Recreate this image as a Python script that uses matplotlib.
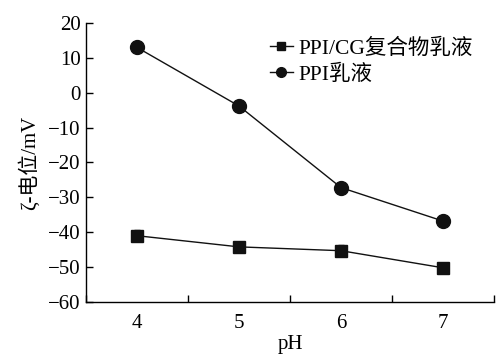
import matplotlib.pyplot as plt
import numpy as np

plt.rcParams['font.family'] = ['Liberation Serif', 'Noto Sans CJK SC']

ph = [4, 5, 6, 7]
complex_zeta = [-41.0, -44.2, -45.3, -50.2]
complex_err = [1.5, 1.5, 1.5, 1.5]
ppi_zeta = [13.0, -3.8, -27.2, -36.8]
ppi_err = [0.8, 0.8, 0.8, 0.8]

fig = plt.figure(figsize=(4.97, 3.54), dpi=100)
ax = fig.add_axes([0.173, 0.147, 0.821, 0.788])

c1 = ax.errorbar(ph, complex_zeta, yerr=complex_err, color='#111111', marker='s',
                 markersize=8, linewidth=1.0, capsize=2, elinewidth=0.8)
c2 = ax.errorbar(ph, ppi_zeta, yerr=ppi_err, color='#111111', marker='o',
                 markersize=10, linewidth=1.0, capsize=2, elinewidth=0.8)

ax.set_xlim(3.5, 7.5)
ax.set_ylim(-60, 20)
ax.set_xticks([3.5, 4.5, 5.5, 6.5, 7.5])
ax.set_xticklabels([])
ax.set_xticks(ph, minor=True)
ax.set_xticklabels([str(p) for p in ph], minor=True)
ax.tick_params(axis='x', which='major', direction='in', length=5, width=1)
ax.tick_params(axis='x', which='minor', length=0, pad=9, labelsize=15)
ax.set_yticks(np.arange(-60, 21, 10))
ax.set_yticklabels([str(v).replace('-', '\u2212') for v in range(-60, 21, 10)])
ax.tick_params(axis='y', direction='in', length=5, width=1, labelsize=15, pad=4)

for s in ['top', 'right']:
    ax.spines[s].set_visible(False)
for s in ['left', 'bottom']:
    ax.spines[s].set_linewidth(1.0)

ax.set_xlabel('pH', fontsize=15, labelpad=1)
ax.set_ylabel('ζ-电位/mV', fontsize=15, labelpad=6)

ax.legend([c1[0], c2[0]], ['PPI/CG复合物乳液', 'PPI乳液'],
          loc='upper left', bbox_to_anchor=(0.45, 0.945), frameon=False,
          fontsize=15.5, handlelength=1.1, handletextpad=0.25, labelspacing=0.28,
          borderaxespad=0, borderpad=0, markerscale=0.7)

fig.savefig('out.png', dpi=100)
